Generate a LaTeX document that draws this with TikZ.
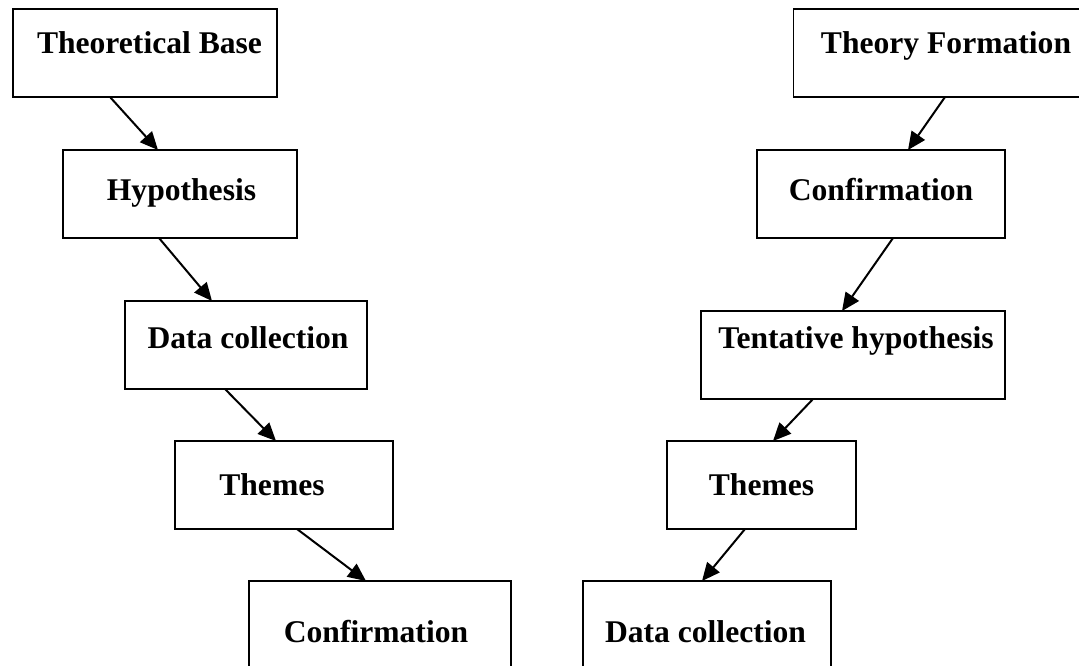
\documentclass[tikz,border=0pt]{standalone}
\usepackage{fontspec}
\setmainfont{Liberation Serif}
\usetikzlibrary{arrows.meta}
\tikzset{
  stepbox/.style={draw=black, line width=0.9pt, inner sep=0pt, outer sep=0pt},
  lbl/.style={anchor=base, inner sep=0pt, font=\bfseries\fontsize{15.8pt}{18pt}\selectfont},
  arr/.style={draw=black, line width=1pt, -{Triangle[length=9pt,width=8pt]}}
}
\begin{document}
\begin{tikzpicture}[x=0.5pt,y=-0.5pt]
\useasboundingbox (0,0) rectangle (1079,665);
\clip (0,0) rectangle (1079,665);
% left column boxes
\node[stepbox, minimum width=132pt, minimum height=44pt] (b1) at (145,53) {};
\node[stepbox, minimum width=117pt, minimum height=44pt] (b2) at (180,194) {};
\node[stepbox, minimum width=121pt, minimum height=44pt] (b3) at (246,345) {};
\node[stepbox, minimum width=109pt, minimum height=44pt] (b4) at (284,485) {};
\node[stepbox, minimum width=131pt, minimum height=44pt] (b5) at (380,625) {};
% right column boxes
\node[stepbox, minimum width=153pt, minimum height=44pt] (r1) at (946.5,53) {};
\node[stepbox, minimum width=124pt, minimum height=44pt] (r2) at (881,194) {};
\node[stepbox, minimum width=152pt, minimum height=44pt] (r3) at (853,355) {};
\node[stepbox, minimum width=94.5pt, minimum height=44pt] (r4) at (761.5,485) {};
\node[stepbox, minimum width=124pt, minimum height=44pt] (r5) at (707,625) {};
% texts
\node[lbl] (t1) at (149.5,53) {Theoretical Base};
\node[lbl] (t2) at (181.5,200) {Hypothesis};
\node[lbl] (t3) at (248,348) {Data collection};
\node[lbl] (t4) at (272,495) {Themes};
\node[lbl] (t5) at (376,642) {Confirmation};
\node[lbl] (s1) at (946,53) {Theory Formation};
\node[lbl] (s2) at (881,200) {Confirmation};
\node[lbl] (s3) at (856,348) {Tentative hypothesis};
\node[lbl] (s4) at (761.5,495) {Themes};
\node[lbl] (s5) at (705.5,642) {Data collection};
% arrows left
\draw[arr] (b1.south -| 110,0) -- (b2.north -| 158,0);
\draw[arr] (b2.south -| 159,0) -- (b3.north -| 212,0);
\draw[arr] (b3.south -| 225,0) -- (b4.north -| 276,0);
\draw[arr] (b4.south -| 297,0) -- (b5.north -| 366,0);
% arrows right
\draw[arr] (r1.south -| 945,0) -- (r2.north -| 908,0);
\draw[arr] (r2.south -| 893,0) -- (r3.north -| 842,0);
\draw[arr] (r3.south -| 813,0) -- (r4.north -| 773,0);
\draw[arr] (r4.south -| 745,0) -- (r5.north -| 702,0);
\end{tikzpicture}
\end{document}
